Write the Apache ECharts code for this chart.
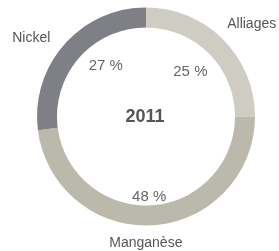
<!DOCTYPE html>
<html><head><meta charset="utf-8">
<script src="https://cdn.jsdelivr.net/npm/echarts@6/dist/echarts.min.js"></script>
<style>html,body{margin:0;padding:0;background:#fff}#c{width:279px;height:251px}</style>
</head><body><div id="c"></div>
<script>
var categories = ['Alliages', 'Manganèse', 'Nickel'];
var values = [25, 48, 27];
var colors = ['#cfccc3', '#bbb9ab', '#7f8085'];
var centerTitle = '2011';

var pctAdjust = [[-3, 3], [-1, 13], [10, -6]];
var nameAdjust = [[6, 7], [-9, -14], [-9, 15]];

var data = categories.map(function (n, i) { return { name: n, value: values[i] }; });
var font = 'Liberation Sans, Arial, sans-serif';
var C = [146, 116.5];

var chart = echarts.init(document.getElementById('c'), null, { renderer: 'canvas' });
chart.setOption({
  animation: false,
  color: colors,
  graphic: [{
    type: 'text', x: C[0] - 1, y: C[1] + 1,
    style: { text: centerTitle, font: 'bold 18px ' + font, fill: '#555', align: 'center', verticalAlign: 'middle' }
  }],
  series: [
    {
      type: 'pie', center: C, radius: [89, 109], startAngle: 90, clockwise: true,
      silent: true, label: { show: false }, labelLine: { show: false },
      data: data
    },
    {
      type: 'pie', center: C, radius: [0, 128], startAngle: 90, clockwise: true, silent: true,
      itemStyle: { color: 'rgba(0,0,0,0)' },
      label: { show: true, position: 'inside', formatter: '{c} %', color: '#666', fontSize: 15, fontFamily: font },
      labelLine: { show: false },
      labelLayout: function (p) { var a = pctAdjust[p.dataIndex]; return { dx: a[0], dy: a[1] }; },
      data: data
    },
    {
      type: 'pie', center: C, radius: [0, 276], startAngle: 90, clockwise: true, silent: true,
      itemStyle: { color: 'rgba(0,0,0,0)' },
      label: { show: true, position: 'inside', formatter: '{b}', color: '#555', fontSize: 14, fontFamily: font },
      labelLine: { show: false },
      labelLayout: function (p) { var a = nameAdjust[p.dataIndex]; return { dx: a[0], dy: a[1] }; },
      data: data
    }
  ]
});
</script></body></html>
